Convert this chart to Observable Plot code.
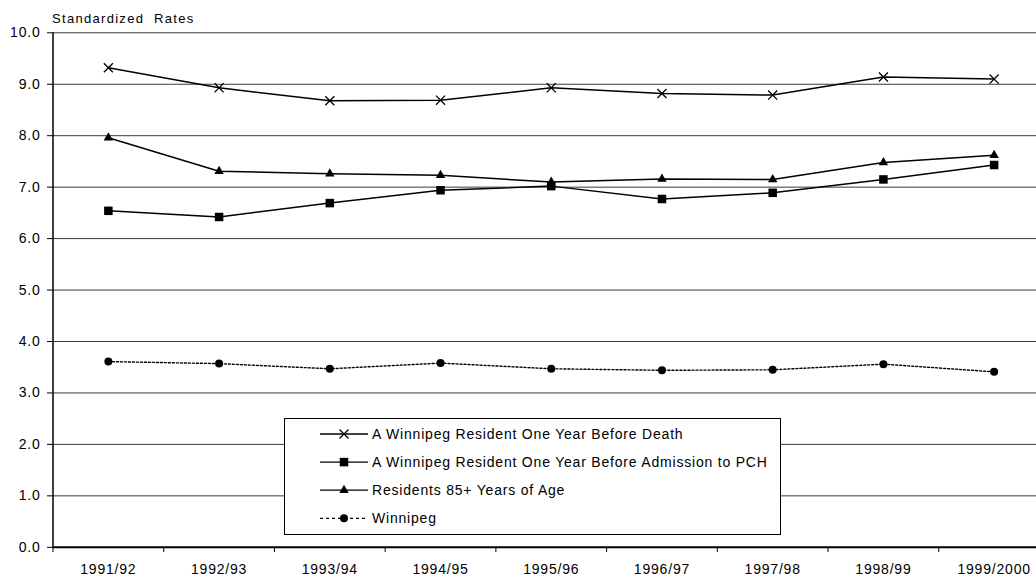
<!DOCTYPE html>
<html>
<head>
<meta charset="utf-8">
<script src="https://cdn.jsdelivr.net/npm/d3@7"></script>
<script src="https://cdn.jsdelivr.net/npm/@observablehq/plot@0.6"></script>
<style>
  body { margin: 0; background: #fff; }
  #chart { position: relative; width: 1036px; height: 578px; font-family: "Liberation Sans", Arial, sans-serif; color: #000; }
  #title { position: absolute; left: 52px; top: 12px; font-size: 13px; line-height: 13px; letter-spacing: 1.3px; white-space: pre; }
  #legend { position: absolute; left: 284px; top: 418px; }
</style>
</head>
<body>
<div id="chart"><div id="title">Standardized  Rates</div></div>
<script>
// Fiscal periods on the x axis
const periods = ["1991/92", "1992/93", "1993/94", "1994/95", "1995/96", "1996/97", "1997/98", "1998/99", "1999/2000"];

// Standardized rates per series
const deathRates    = [9.32, 8.93, 8.68, 8.69, 8.93, 8.82, 8.79, 9.14, 9.10];
const pchRates      = [6.54, 6.42, 6.69, 6.94, 7.02, 6.77, 6.89, 7.15, 7.43];
const age85Rates    = [7.96, 7.31, 7.26, 7.23, 7.10, 7.16, 7.15, 7.48, 7.62];
const winnipegRates = [3.61, 3.57, 3.47, 3.58, 3.47, 3.44, 3.45, 3.56, 3.41];

const seriesNames = [
  "A Winnipeg Resident One Year Before Death",
  "A Winnipeg Resident One Year Before Admission to PCH",
  "Residents 85+ Years of Age",
  "Winnipeg"
];

const yTicks = d3.range(0, 11);

// Series styling: marker symbol, marker radius, line dash
const series = [
  {name: seriesNames[0], values: deathRates,    symbol: "times",    r: 4.2, dash: null,  fill: "none"},
  {name: seriesNames[1], values: pchRates,      symbol: "square",   r: 4.8, dash: null,  fill: "#000"},
  {name: seriesNames[2], values: age85Rates,    symbol: "triangle", r: 3.5, dash: null,  fill: "#000"},
  {name: seriesNames[3], values: winnipegRates, symbol: "circle",   r: 4.0, dash: "2,2", fill: "#000"}
];

const indices = periods.map((_, i) => i);
const boundaries = indices.map(i => i - 0.5);

const marks = [
  // horizontal gridlines
  Plot.ruleY(yTicks.filter(v => v > 0), {stroke: "#3a3a3a", strokeWidth: 1}),
  // axes
  Plot.axisY({ticks: yTicks, tickSize: 5, tickPadding: 7, tickFormat: ".1f", label: null}),
  Plot.axisX({ticks: boundaries, tickSize: 5, tickFormat: () => "", label: null}),
  Plot.axisX({ticks: indices, tickSize: 0, tickPadding: 17, tickFormat: i => periods[i], label: null}),
  Plot.ruleX([-0.5], {y1: 0, y2: 10, stroke: "#000", strokeWidth: 1.5}),
  Plot.ruleY([0], {stroke: "#000", strokeWidth: 2})
];

for (const s of series) {
  const rows = s.values.map((v, i) => ({i, v}));
  marks.push(Plot.line(rows, {x: "i", y: "v", stroke: "#000", strokeWidth: s.dash ? 1.4 : 1.5, strokeDasharray: s.dash}));
}
for (const s of series) {
  const rows = s.values.map((v, i) => ({i, v}));
  marks.push(Plot.dot(rows, {
    x: "i", y: "v", r: s.r, symbol: s.symbol,
    fill: s.fill, stroke: s.fill === "none" ? "#000" : "none", strokeWidth: 1.3
  }));
}

const chart = Plot.plot({
  width: 1036,
  height: 578,
  marginTop: 32,
  marginBottom: 31,
  marginLeft: 52,
  marginRight: 0,
  x: {type: "linear", domain: [-0.5, 8.5], range: [52.5, 1049]},
  y: {domain: [0, 10], range: [546.8, 32.3]},
  r: {type: "identity"},
  symbol: {type: "identity"},
  style: {fontFamily: "'Liberation Sans', Arial, sans-serif", fontSize: "14px", letterSpacing: "0.8px", color: "#000", background: "transparent", overflow: "hidden"},
  marks
});
document.getElementById("chart").prepend(chart);

// Legend box drawn over the lower plot area
const legendW = 497, legendH = 117, rowY0 = 16, rowStep = 28.1;
const legend = d3.select("#chart").append("svg")
  .attr("id", "legend")
  .attr("width", legendW)
  .attr("height", legendH)
  .style("font-family", "'Liberation Sans', Arial, sans-serif")
  .style("font-size", "14px")
  .style("letter-spacing", "0.8px");
legend.append("rect")
  .attr("x", 0.5).attr("y", 0.5)
  .attr("width", legendW - 1).attr("height", legendH - 1)
  .attr("fill", "#fff").attr("stroke", "#000");

const symbolTypes = {times: d3.symbolX, square: d3.symbolSquare, triangle: d3.symbolTriangle, circle: d3.symbolCircle};
series.forEach((s, k) => {
  const g = legend.append("g").attr("transform", `translate(0,${rowY0 + k * rowStep})`);
  g.append("line")
    .attr("x1", 36).attr("x2", 84)
    .attr("stroke", "#000").attr("stroke-width", 1.3)
    .attr("stroke-dasharray", s.dash ? "3,3" : null);
  g.append("path")
    .attr("transform", "translate(60,0)")
    .attr("d", d3.symbol(symbolTypes[s.symbol], Math.PI * s.r * s.r)())
    .attr("fill", s.fill)
    .attr("stroke", s.fill === "none" ? "#000" : "none")
    .attr("stroke-width", 1.3);
  g.append("text")
    .attr("x", 88).attr("dy", "0.35em")
    .text(s.name);
});
</script>
</body>
</html>
